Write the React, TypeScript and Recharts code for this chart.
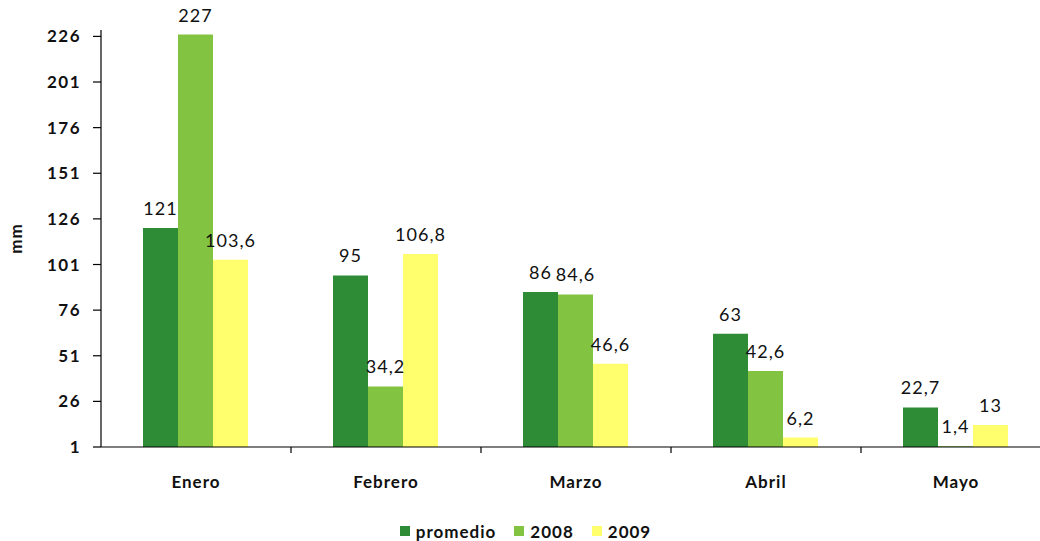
import { BarChart, Bar, XAxis, YAxis, LabelList, Legend } from 'recharts';

const months = ['Enero', 'Febrero', 'Marzo', 'Abril', 'Mayo'];
const promedio = [121, 95, 86, 63, 22.7];
const y2008 = [227, 34.2, 84.6, 42.6, 1.4];
const y2009 = [103.6, 106.8, 46.6, 6.2, 13];
const yTicks = [1, 26, 51, 76, 101, 126, 151, 176, 201, 226];

const series = [
  { key: 'promedio', name: 'promedio', color: '#2e8b36' },
  { key: 'y2008', name: '2008', color: '#82c341' },
  { key: 'y2009', name: '2009', color: '#ffff6e' },
];

const data = months.map((m, i) => ({
  month: m,
  promedio: promedio[i],
  y2008: y2008[i],
  y2009: y2009[i],
}));

const FONT = 'Lato, "Open Sans", sans-serif';
const CHART_W = 1060;
const PLOT_LEFT = 101;
const PLOT_RIGHT = 1051;
const BAND = (PLOT_RIGHT - PLOT_LEFT) / months.length;

const fmt = (v: number) => String(v).replace('.', ',');

function MonthTick({ x, y, payload }: any) {
  const bx = x - BAND / 2;
  return (
    <g>
      {payload.index > 0 && <line x1={bx} y1={y - 8} x2={bx} y2={y - 2} stroke="#000" strokeWidth={1.2} />}
      <text
        x={x}
        y={y + 33}
        textAnchor="middle"
        fontFamily={FONT}
        fontSize={17}
        fontWeight={700}
        letterSpacing={1}
        fill="#111"
      >
        {payload.value}
      </text>
    </g>
  );
}

function LegendContent() {
  return (
    <div
      style={{
        display: 'flex',
        justifyContent: 'center',
        alignItems: 'center',
        height: 20,
        fontFamily: FONT,
        fontSize: 17,
        fontWeight: 700,
        letterSpacing: 1,
        color: '#111',
      }}
    >
      {series.map((s) => (
        <span key={s.key} style={{ display: 'inline-flex', alignItems: 'center', margin: '0 9px' }}>
          <span style={{ width: 10, height: 10, background: s.color, marginRight: 6, display: 'inline-block' }} />
          {s.name}
        </span>
      ))}
    </div>
  );
}

export default function App() {
  return (
    <div
      style={{
        position: 'absolute',
        left: 0,
        top: 0,
        width: 1040,
        height: 541,
        overflow: 'hidden',
        background: '#fff',
      }}
    >
      <BarChart
        width={CHART_W}
        height={541}
        data={data}
        margin={{ top: 30, right: CHART_W - PLOT_RIGHT, left: 0, bottom: 0 }}
        barGap={0}
        barCategoryGap={42}
      >
        <XAxis
          dataKey="month"
          height={74}
          axisLine={{ stroke: '#000', strokeWidth: 1.2 }}
          tickLine={false}
          tick={<MonthTick />}
          interval={0}
        />
        <YAxis
          width={PLOT_LEFT}
          domain={[1, 229.5]}
          ticks={yTicks}
          allowDataOverflow
          axisLine={{ stroke: '#000', strokeWidth: 1.2 }}
          tickLine={{ stroke: '#000', strokeWidth: 1.2 }}
          tickSize={8}
          tickMargin={12}
          tick={{ fontFamily: FONT, fontSize: 17, fontWeight: 700, fill: '#111', letterSpacing: 1.5 }}
          label={{
            value: 'mm',
            angle: -90,
            position: 'insideLeft',
            offset: 16,
            style: { fontFamily: FONT, fontSize: 17, fontWeight: 700, fill: '#111', textAnchor: 'middle', letterSpacing: 1 },
          }}
        />
        <Legend verticalAlign="bottom" height={20} content={<LegendContent />} />
        {series.map((s) => (
          <Bar key={s.key} dataKey={s.key} name={s.name} fill={s.color} isAnimationActive={false}>
            <LabelList
              dataKey={s.key}
              position="top"
              offset={13}
              formatter={(v: any) => fmt(v)}
              style={{ fontFamily: FONT, fontSize: 18, fill: '#111', letterSpacing: 1 }}
            />
          </Bar>
        ))}
      </BarChart>
    </div>
  );
}
